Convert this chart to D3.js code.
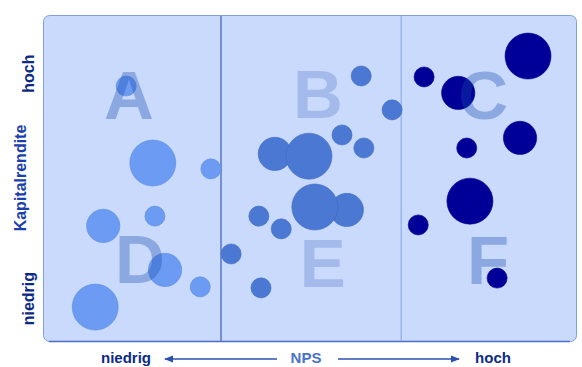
<!DOCTYPE html>
<html>
<head>
<meta charset="utf-8">
<script src="https://cdn.jsdelivr.net/npm/d3@7"></script>
<style>
  html, body { margin: 0; padding: 0; background: #fff; }
  svg { display: block; }
</style>
</head>
<body>
<div id="chart"></div>
<script>
// Portfolio: NPS (x) vs. Kapitalrendite (y), bubble size = Umsatz
const gruppe   = ['niedrig', 'niedrig', 'niedrig', 'niedrig', 'niedrig', 'niedrig', 'niedrig', 'niedrig',
                  'mittel', 'mittel', 'mittel', 'mittel', 'mittel', 'mittel', 'mittel', 'mittel', 'mittel', 'mittel', 'mittel', 'mittel',
                  'hoch', 'hoch', 'hoch', 'hoch', 'hoch', 'hoch', 'hoch', 'hoch'];
const nps      = [15.6, 20.6, 31.5, 11.3, 21.0, 22.9, 9.8, 29.5,
                  59.7, 65.5, 56.1, 60.2, 43.5, 49.9, 57.0, 51.0, 40.5, 44.7, 35.3, 40.9,
                  91.0, 71.5, 77.9, 89.5, 79.5, 80.1, 70.4, 85.2];
const rendite  = [78.2, 54.6, 52.8, 35.3, 38.3, 21.8, 10.4, 16.6,
                  81.3, 70.9, 63.2, 59.2, 57.4, 56.7, 40.2, 41.1, 38.3, 34.4, 26.7, 16.3,
                  87.4, 81.0, 76.1, 62.3, 59.2, 42.9, 35.6, 19.3];
const umsatz   = [20, 105, 20, 55, 20, 55, 105, 20,
                  20, 20, 20, 20, 55, 105, 55, 105, 20, 20, 20, 20,
                  105, 20, 55, 55, 20, 105, 20, 20];

const segmentLabels = ['A', 'B', 'C', 'D', 'E', 'F'];
const segmentNps    = [16.1, 51.6, 82.6, 18.2, 52.5, 83.5];
const segmentRend   = [68.1, 68.4, 68.1, 17.8, 16.6, 17.5];

const npsGrenzen = [33.4, 67.2];

const farben = { niedrig: '#6b9bf3', mittel: '#4a78d2', hoch: '#000099' };

const width = 582, height = 367;
const plot = { left: 43, top: 15, right: 576, bottom: 341 };

const svg = d3.select('#chart')
    .append('svg')
    .attr('width', width)
    .attr('height', height);

const x = d3.scaleLinear().domain([0, 100]).range([plot.left, plot.right]);
const y = d3.scaleLinear().domain([0, 100]).range([plot.bottom, plot.top]);
const r = d3.scaleSqrt().domain([0, 105]).range([0, 23]);

// Hintergrund
svg.append('rect')
    .attr('x', plot.left + 0.5)
    .attr('y', plot.top + 0.5)
    .attr('width', plot.right - plot.left)
    .attr('height', plot.bottom - plot.top)
    .attr('rx', 6)
    .attr('fill', '#c9dafc')
    .attr('stroke', '#7f9fe0')
    .attr('stroke-width', 1);

svg.append('line')
    .attr('x1', plot.left + 6).attr('x2', plot.right - 6)
    .attr('y1', plot.bottom + 0.5).attr('y2', plot.bottom + 0.5)
    .attr('stroke', '#4a6fc8')
    .attr('stroke-width', 1.5);

// Trennlinien
svg.selectAll('.grenze')
    .data(npsGrenzen)
    .enter()
    .append('line')
    .attr('class', 'grenze')
    .attr('x1', d => x(d)).attr('x2', d => x(d))
    .attr('y1', plot.top + 1).attr('y2', plot.bottom)
    .attr('stroke', (d, i) => i === 0 ? '#6f8fd8' : '#8eaae8')
    .attr('stroke-width', (d, i) => i === 0 ? 2 : 1.2);

// Blasen
const punkte = nps.map((d, i) => ({ nps: d, rendite: rendite[i], umsatz: umsatz[i], gruppe: gruppe[i] }));

svg.selectAll('.blase')
    .data(punkte)
    .enter()
    .append('circle')
    .attr('class', 'blase')
    .attr('cx', d => x(d.nps))
    .attr('cy', d => y(d.rendite))
    .attr('r', d => r(d.umsatz))
    .attr('fill', d => farben[d.gruppe])
    .attr('stroke', d => d3.color(farben[d.gruppe]).darker(0.3))
    .attr('stroke-width', 0.6);

// Segment-Buchstaben
svg.selectAll('.segment')
    .data(segmentLabels)
    .enter()
    .append('text')
    .attr('class', 'segment')
    .attr('x', (d, i) => x(segmentNps[i]))
    .attr('y', (d, i) => y(segmentRend[i]))
    .attr('text-anchor', 'middle')
    .attr('fill', 'rgb(27,75,172)')
    .attr('fill-opacity', (d, i) => (i % 3 === 1) ? 0.22 : 0.35)
    .style('font-family', '"Liberation Sans", Arial, sans-serif')
    .style('font-weight', 'bold')
    .style('font-size', '69px')
    .text(d => d);

// y-Achse
const yText = [
    { t: 'hoch', v: 82, c: '#0b2a86' },
    { t: 'Kapitalrendite', v: 50, c: '#1a40b0' },
    { t: 'niedrig', v: 13, c: '#0b2a86' }
];
yText.forEach(d => {
    svg.append('text')
        .attr('transform', `translate(${d.t === 'Kapitalrendite' ? 26 : 34}, ${y(d.v)}) rotate(-90)`)
        .attr('text-anchor', 'middle')
        .attr('fill', d.c)
        .style('font-family', '"Liberation Sans", Arial, sans-serif')
        .style('font-weight', 'bold')
        .style('font-size', '16px')
        .text(d.t);
});

// x-Achse
const ax = svg.append('g');
const defs = svg.append('defs');
defs.append('marker')
    .attr('id', 'pfeil')
    .attr('viewBox', '0 0 10 10')
    .attr('refX', 9).attr('refY', 5)
    .attr('markerWidth', 6).attr('markerHeight', 6)
    .attr('orient', 'auto-start-reverse')
    .append('path')
    .attr('d', 'M0,1 L10,5 L0,9 Z')
    .attr('fill', '#2a50b0');

ax.append('line')
    .attr('x1', 277).attr('x2', 165)
    .attr('y1', 359).attr('y2', 359)
    .attr('stroke', '#2a50b0').attr('stroke-width', 1.5)
    .attr('marker-end', 'url(#pfeil)');
ax.append('line')
    .attr('x1', 338).attr('x2', 459)
    .attr('y1', 359).attr('y2', 359)
    .attr('stroke', '#2a50b0').attr('stroke-width', 1.5)
    .attr('marker-end', 'url(#pfeil)');

const xText = [
    { t: 'niedrig', x: 126, c: '#0b2a86' },
    { t: 'NPS', x: 306, c: '#4a72d0' },
    { t: 'hoch', x: 493, c: '#0b2a86' }
];
xText.forEach(d => {
    ax.append('text')
        .attr('x', d.x)
        .attr('y', 363)
        .attr('text-anchor', 'middle')
        .attr('fill', d.c)
        .style('font-family', '"Liberation Sans", Arial, sans-serif')
        .style('font-weight', 'bold')
        .style('font-size', '15px')
        .text(d.t);
});
</script>
</body>
</html>
